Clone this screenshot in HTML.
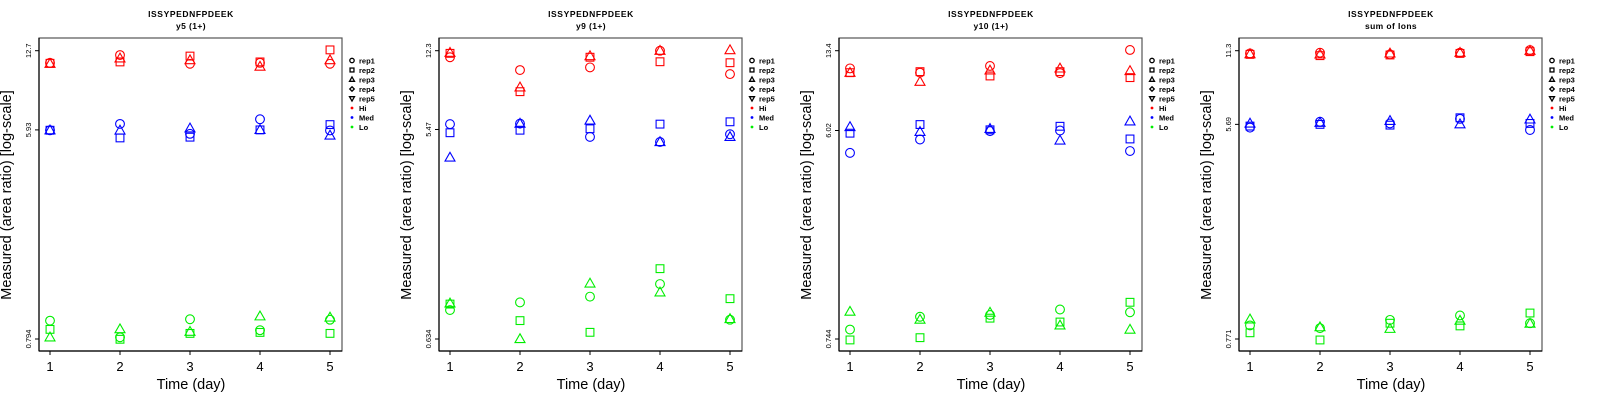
<!DOCTYPE html>
<html><head><meta charset="utf-8"><style>
html,body{margin:0;padding:0;background:#fff;}
svg{display:block;font-family:"Liberation Sans",sans-serif;}
</style></head><body>
<svg id="chart" width="1600" height="400" xmlns="http://www.w3.org/2000/svg"></svg>
<script>
// Data: values per panel, group (Hi, Med, Lo), rep (rep1 circle, rep2 square, rep3 triangle), days 1..5
const days = [1, 2, 3, 4, 5];
const panelTitles = ["y5 (1+)", "y9 (1+)", "y10 (1+)", "sum of Ions"];
const yTickLabels = [["12.7","5.93","0.794"],["12.3","5.47","0.634"],["13.4","6.02","0.744"],["11.3","5.69","0.771"]];
const yTickValues = [[12.7,5.93,0.794],[12.3,5.47,0.634],[13.4,6.02,0.744],[11.3,5.69,0.771]];
const groups = ["Hi","Med","Lo"];
const reps = ["rep1","rep2","rep3"];
// p1
const p1HiRep1=[11.3,12.18,11.2,11.3,11.2], p1HiRep2=[11.25,11.4,12.06,11.4,12.8], p1HiRep3=[11.2,11.8,11.6,10.9,11.6];
const p1MedRep1=[5.91,6.28,5.71,6.57,5.9], p1MedRep2=[5.91,5.49,5.53,5.93,6.24], p1MedRep3=[5.91,5.9,6.02,5.93,5.62];
const p1LoRep1=[0.947,0.807,0.96,0.864,0.956], p1LoRep2=[0.871,0.792,0.838,0.846,0.838], p1LoRep3=[0.807,0.873,0.852,0.988,0.977];
// p2
const p2HiRep1=[11.5,10.08,10.36,12.3,9.67], p2HiRep2=[11.97,8.07,11.5,10.98,10.87], p2HiRep3=[12.05,8.44,11.64,12.3,12.38];
const p2MedRep1=[5.78,5.81,5.07,4.81,5.21], p2MedRep2=[5.29,5.43,5.51,5.78,5.92], p2MedRep3=[4.10,5.81,6.0,4.81,5.07];
const p2LoRep1=[0.854,0.924,0.98,1.116,0.773], p2LoRep2=[0.908,0.766,0.679,1.307,0.96], p2LoRep3=[0.915,0.634,1.123,1.025,0.779];
// p3
const p3HiRep1=[11.22,10.75,11.5,10.7,13.5], p3HiRep2=[10.75,10.86,10.4,10.86,10.23], p3HiRep3=[10.75,9.82,11.0,11.22,10.94];
const p3MedRep1=[4.81,5.5,5.98,6.02,4.9], p3MedRep2=[5.86,6.39,6.06,6.28,5.53], p3MedRep3=[6.24,5.94,6.12,5.45,6.6];
const p3LoRep1=[0.818,0.93,0.947,1.0,0.973], p3LoRep2=[0.737,0.754,0.917,0.882,1.075], p3LoRep3=[0.979,0.904,0.97,0.853,0.818];
// p4
const p4HiRep1=[11.02,11.09,10.92,11.09,11.37], p4HiRep2=[10.92,10.79,10.86,11.02,11.2], p4HiRep3=[10.95,10.92,11.02,11.09,11.3];
const p4MedRep1=[5.52,5.83,5.74,5.99,5.4], p4MedRep2=[5.6,5.69,5.65,6.05,5.74], p4MedRep3=[5.74,5.78,5.88,5.7,5.96];
const p4LoRep1=[0.875,0.853,0.921,0.96,0.893], p4LoRep2=[0.817,0.764,0.893,0.871,0.982], p4LoRep3=[0.926,0.861,0.848,0.915,0.89];

const panelData = [
 [[p1HiRep1,p1HiRep2,p1HiRep3],[p1MedRep1,p1MedRep2,p1MedRep3],[p1LoRep1,p1LoRep2,p1LoRep3]],
 [[p2HiRep1,p2HiRep2,p2HiRep3],[p2MedRep1,p2MedRep2,p2MedRep3],[p2LoRep1,p2LoRep2,p2LoRep3]],
 [[p3HiRep1,p3HiRep2,p3HiRep3],[p3MedRep1,p3MedRep2,p3MedRep3],[p3LoRep1,p3LoRep2,p3LoRep3]],
 [[p4HiRep1,p4HiRep2,p4HiRep3],[p4MedRep1,p4MedRep2,p4MedRep3],[p4LoRep1,p4LoRep2,p4LoRep3]]
];
const groupColors = ["#ff0000","#0000ff","#00ee00"];

const NS="http://www.w3.org/2000/svg";
const svg=document.getElementById("chart");
function mk(tag,attrs,parent){const e=document.createElementNS(NS,tag);for(const k in attrs)e.setAttribute(k,attrs[k]);(parent||svg).appendChild(e);return e;}

const boxL=39, boxR=342, boxT=38, boxB=351;
const xTop=50.7, yBot=339;
function xScale(d){return 50+(d-1)*70;}
function makeY(maxV,minV){const lmax=Math.log(maxV),lmin=Math.log(minV);return v=>xTop+(lmax-Math.log(v))/(lmax-lmin)*(yBot-xTop);}

function marker(g,shape,x,y,color,s,sw){
  s=s||1; sw=sw||1.1;
  let e;
  if(shape===0){e=mk("circle",{cx:x,cy:y,r:4.4*s,fill:"none",stroke:color,"stroke-width":sw},g);}
  else if(shape===1){e=mk("rect",{x:x-3.9*s,y:y-3.9*s,width:7.8*s,height:7.8*s,fill:"none",stroke:color,"stroke-width":sw},g);}
  else if(shape===2){e=mk("polygon",{points:`${x},${y-5.2*s} ${x-5*s},${y+3.6*s} ${x+5*s},${y+3.6*s}`,fill:"none",stroke:color,"stroke-width":sw},g);}
  else if(shape===3){e=mk("polygon",{points:`${x},${y-4.5*s} ${x+4.5*s},${y} ${x},${y+4.5*s} ${x-4.5*s},${y}`,fill:"none",stroke:color,"stroke-width":sw},g);}
  else if(shape===4){e=mk("polygon",{points:`${x},${y+5.2*s} ${x-5*s},${y-3.6*s} ${x+5*s},${y-3.6*s}`,fill:"none",stroke:color,"stroke-width":sw},g);}
  else {e=mk("circle",{cx:x,cy:y,r:1.4,fill:color,stroke:"none"},g);}
  return e;
}

for(let p=0;p<4;p++){
  const ox=p*400;
  const g=mk("g",{transform:`translate(${ox},0)`});
  
  
  const t1=mk("text",{x:191,y:17,"text-anchor":"middle","font-size":"8.5","font-weight":"bold","letter-spacing":"0.6"},g);t1.textContent="ISSYPEDNFPDEEK";
  
  
  const t2=mk("text",{x:191,y:29,"text-anchor":"middle","font-size":"8.5","font-weight":"bold","letter-spacing":"0.4"},g);t2.textContent=panelTitles[p];
  
  
  const box=mk("rect",{x:boxL,y:boxT,width:boxR-boxL,height:boxB-boxT,fill:"none",stroke:"#555","stroke-width":1.2},g);
  
  
  mk("line",{x1:boxL,y1:boxB,x2:boxR,y2:boxB,stroke:"#000","stroke-width":1.2},g);
  mk("line",{x1:boxL,y1:boxT,x2:boxL,y2:boxB,stroke:"#000","stroke-width":1.2},g);
  const yS=makeY(yTickValues[p][0],yTickValues[p][2]);
  for(let i=0;i<3;i++){
    const y=yS(yTickValues[p][i]);
    mk("line",{x1:boxL-4,y1:y,x2:boxL,y2:y,stroke:"#000"},g);
    const tl=mk("text",{x:0,y:0,"text-anchor":"middle","font-size":"7.5",transform:`translate(31,${y}) rotate(-90)`},g);
    tl.textContent=yTickLabels[p][i];
    
    
  }
  for(const d of days){
    const x=xScale(d);
    mk("line",{x1:x,y1:boxB,x2:x,y2:boxB+4,stroke:"#000"},g);
    const xl=mk("text",{x:x,y:371,"text-anchor":"middle","font-size":"13"},g);xl.textContent=d;
    
    
  }
  const xt=mk("text",{x:191,y:389,"text-anchor":"middle","font-size":"14.5"},g);xt.textContent="Time (day)";
  
  
  const yt=mk("text",{x:0,y:0,"text-anchor":"middle","font-size":"14.5",transform:"translate(11,195) rotate(-90)"},g);yt.textContent="Measured (area ratio) [log-scale]";
  
  
  for(let gi=0;gi<3;gi++){
    for(let r=0;r<3;r++){
      const vals=panelData[p][gi][r];
      for(let i=0;i<days.length;i++){
        const m=marker(g,r,xScale(days[i]),yS(vals[i]),groupColors[gi]);
        
        
      }
    }
  }
  // legend
  const lg=mk("g",{},g);
  
  
  const labels=["rep1","rep2","rep3","rep4","rep5","Hi","Med","Lo"];
  for(let i=0;i<labels.length;i++){
    const y=60.5+i*9.5;
    const col=i<5?"#000":groupColors[i-5];
    marker(lg,i<5?i:5,352,y,col,0.5,1.3);
    const t=mk("text",{x:359,y:y+3,"font-size":"7.5","font-weight":"bold"},lg);t.textContent=labels[i];
    
    
  }
}
</script>
</body></html>
